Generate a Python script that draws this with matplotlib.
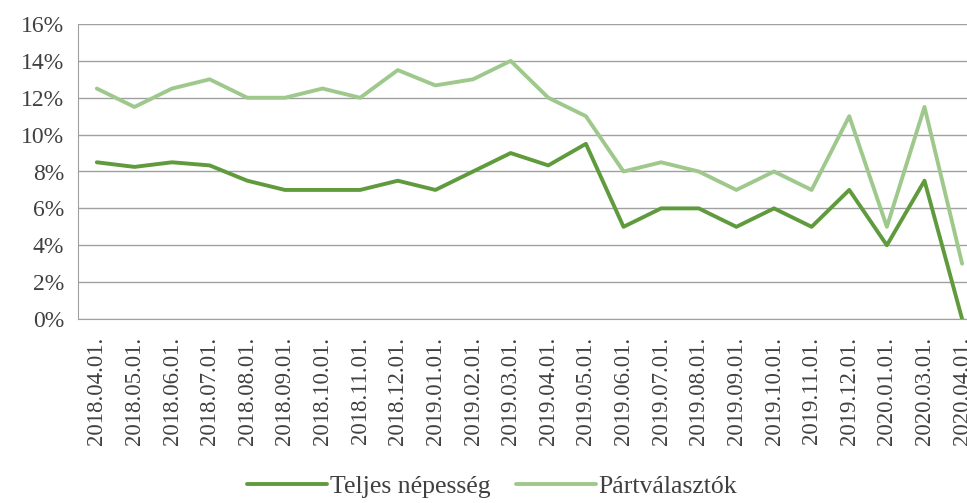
import matplotlib.pyplot as plt
from matplotlib.ticker import FuncFormatter

# data
dates = ["2018.04.01.", "2018.05.01.", "2018.06.01.", "2018.07.01.", "2018.08.01.",
         "2018.09.01.", "2018.10.01.", "2018.11.01.", "2018.12.01.", "2019.01.01.",
         "2019.02.01.", "2019.03.01.", "2019.04.01.", "2019.05.01.", "2019.06.01.",
         "2019.07.01.", "2019.08.01.", "2019.09.01.", "2019.10.01.", "2019.11.01.",
         "2019.12.01.", "2020.01.01.", "2020.03.01.", "2020.04.01."]
teljes = [8.5, 8.25, 8.5, 8.33, 7.5, 7.0, 7.0, 7.0, 7.5, 7.0, 8.0, 9.0,
          8.33, 9.5, 5.0, 6.0, 6.0, 5.0, 6.0, 5.0, 7.0, 4.0, 7.5, 0.0]
partvalasztok = [12.5, 11.5, 12.5, 13.0, 12.0, 12.0, 12.5, 12.0, 13.5, 12.67, 13.0, 14.0,
                 12.0, 11.0, 8.0, 8.5, 8.0, 7.0, 8.0, 7.0, 11.0, 5.0, 11.5, 3.0]
yticks = [0, 2, 4, 6, 8, 10, 12, 14, 16]

plt.rcParams['font.family'] = ['Liberation Serif', 'DejaVu Serif']

fig = plt.figure(figsize=(9.67, 5.03), dpi=100)
ax = fig.add_axes([78 / 967, 1 - 319 / 503, 1 - 78 / 967, (319 - 24) / 503])

x = list(range(len(dates)))
ax.plot(x, teljes, color='#5f9b3c', linewidth=2.8, label='Teljes népesség', solid_capstyle='round')
ax.plot(x, partvalasztok, color='#9fc98c', linewidth=2.8, label='Pártválasztók', solid_capstyle='round')

ax.set_xlim(-0.5, 23.13)
ax.set_ylim(0, 16)
ax.set_yticks(yticks)
ax.yaxis.set_major_formatter(FuncFormatter(lambda v, p: "%d%%" % v))
ax.set_xticks(x)
ax.set_xticklabels(dates, rotation=90, fontsize=16.5, color='#404040')
ax.tick_params(axis='y', labelsize=17, labelcolor='#404040', length=0, pad=10)
ax.tick_params(axis='x', length=0, pad=13)

ax.grid(axis='y', color='#a0a0a0', linewidth=1.0)
ax.set_axisbelow(True)
for s in ['top', 'right']:
    ax.spines[s].set_visible(False)
ax.spines['left'].set_color('#a0a0a0')
ax.spines['bottom'].set_color('#a0a0a0')

fig.legend(loc='lower center', bbox_to_anchor=(492 / 967, -0.036), ncol=2, frameon=False,
           fontsize=18.5, handlelength=3.1, columnspacing=1.0, handletextpad=0.1,
           labelcolor='#404040')

fig.savefig('out.png', dpi=100)
